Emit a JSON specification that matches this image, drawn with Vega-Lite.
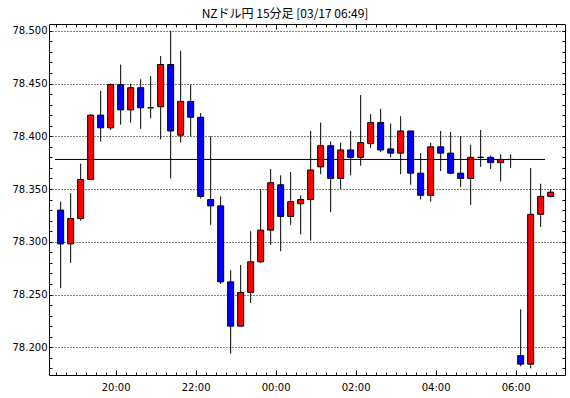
{
  "$schema": "https://vega.github.io/schema/vega-lite/v6.json",
  "width": 516,
  "height": 351,
  "autosize": {"type": "none"},
  "padding": {"left": 49, "top": 24, "right": 5, "bottom": 23},
  "background": "white",
  "title": {"text": "NZドル円 15分足 [03/17 06:49]", "font": "Noto Sans CJK JP", "fontSize": 12, "fontWeight": "normal", "color": "black", "anchor": "middle", "dx": -22, "dy": 11, "offset": 5, "baseline": "alphabetic"},
  "config": {
    "view": {"stroke": "black", "strokeWidth": 1},
    "axis": {"labelFont": "DejaVu Sans", "labelFontSize": 10, "labelColor": "black", "tickColor": "black", "tickWidth": 1, "domain": false, "grid": false, "title": null}
  },
  "datasets": {
    "candles": [
      {"t": "2025-03-16T18:37:30", "o": 78.330, "h": 78.338, "l": 78.256, "c": 78.298},
      {"t": "2025-03-16T18:52:30", "o": 78.298, "h": 78.346, "l": 78.280, "c": 78.322},
      {"t": "2025-03-16T19:07:30", "o": 78.322, "h": 78.374, "l": 78.320, "c": 78.359},
      {"t": "2025-03-16T19:22:30", "o": 78.359, "h": 78.421, "l": 78.359, "c": 78.420},
      {"t": "2025-03-16T19:37:30", "o": 78.420, "h": 78.443, "l": 78.395, "c": 78.408},
      {"t": "2025-03-16T19:52:30", "o": 78.408, "h": 78.450, "l": 78.406, "c": 78.449},
      {"t": "2025-03-16T20:07:30", "o": 78.449, "h": 78.468, "l": 78.411, "c": 78.425},
      {"t": "2025-03-16T20:22:30", "o": 78.425, "h": 78.450, "l": 78.413, "c": 78.446},
      {"t": "2025-03-16T20:37:30", "o": 78.446, "h": 78.454, "l": 78.407, "c": 78.427},
      {"t": "2025-03-16T20:52:30", "o": 78.427, "h": 78.457, "l": 78.417, "c": 78.427},
      {"t": "2025-03-16T21:07:30", "o": 78.428, "h": 78.476, "l": 78.397, "c": 78.468},
      {"t": "2025-03-16T21:22:30", "o": 78.468, "h": 78.500, "l": 78.360, "c": 78.405},
      {"t": "2025-03-16T21:37:30", "o": 78.401, "h": 78.481, "l": 78.394, "c": 78.433},
      {"t": "2025-03-16T21:52:30", "o": 78.433, "h": 78.449, "l": 78.400, "c": 78.418},
      {"t": "2025-03-16T22:07:30", "o": 78.418, "h": 78.422, "l": 78.341, "c": 78.343},
      {"t": "2025-03-16T22:22:30", "o": 78.340, "h": 78.400, "l": 78.316, "c": 78.334},
      {"t": "2025-03-16T22:37:30", "o": 78.334, "h": 78.343, "l": 78.260, "c": 78.262},
      {"t": "2025-03-16T22:52:30", "o": 78.262, "h": 78.273, "l": 78.194, "c": 78.220},
      {"t": "2025-03-16T23:07:30", "o": 78.220, "h": 78.278, "l": 78.220, "c": 78.252},
      {"t": "2025-03-16T23:22:30", "o": 78.252, "h": 78.310, "l": 78.242, "c": 78.281},
      {"t": "2025-03-16T23:37:30", "o": 78.281, "h": 78.350, "l": 78.280, "c": 78.311},
      {"t": "2025-03-16T23:52:30", "o": 78.311, "h": 78.369, "l": 78.297, "c": 78.356},
      {"t": "2025-03-17T00:07:30", "o": 78.354, "h": 78.363, "l": 78.291, "c": 78.324},
      {"t": "2025-03-17T00:22:30", "o": 78.324, "h": 78.366, "l": 78.316, "c": 78.338},
      {"t": "2025-03-17T00:37:30", "o": 78.336, "h": 78.344, "l": 78.307, "c": 78.340},
      {"t": "2025-03-17T00:52:30", "o": 78.340, "h": 78.405, "l": 78.301, "c": 78.368},
      {"t": "2025-03-17T01:07:30", "o": 78.371, "h": 78.413, "l": 78.364, "c": 78.391},
      {"t": "2025-03-17T01:22:30", "o": 78.391, "h": 78.395, "l": 78.328, "c": 78.360},
      {"t": "2025-03-17T01:37:30", "o": 78.360, "h": 78.394, "l": 78.350, "c": 78.387},
      {"t": "2025-03-17T01:52:30", "o": 78.387, "h": 78.405, "l": 78.363, "c": 78.380},
      {"t": "2025-03-17T02:07:30", "o": 78.380, "h": 78.439, "l": 78.372, "c": 78.394},
      {"t": "2025-03-17T02:22:30", "o": 78.393, "h": 78.421, "l": 78.389, "c": 78.413},
      {"t": "2025-03-17T02:37:30", "o": 78.413, "h": 78.426, "l": 78.385, "c": 78.387},
      {"t": "2025-03-17T02:52:30", "o": 78.388, "h": 78.412, "l": 78.380, "c": 78.384},
      {"t": "2025-03-17T03:07:30", "o": 78.384, "h": 78.419, "l": 78.364, "c": 78.405},
      {"t": "2025-03-17T03:22:30", "o": 78.405, "h": 78.405, "l": 78.354, "c": 78.365},
      {"t": "2025-03-17T03:37:30", "o": 78.365, "h": 78.384, "l": 78.340, "c": 78.344},
      {"t": "2025-03-17T03:52:30", "o": 78.344, "h": 78.394, "l": 78.338, "c": 78.390},
      {"t": "2025-03-17T04:07:30", "o": 78.390, "h": 78.405, "l": 78.367, "c": 78.384},
      {"t": "2025-03-17T04:22:30", "o": 78.384, "h": 78.404, "l": 78.364, "c": 78.365},
      {"t": "2025-03-17T04:37:30", "o": 78.365, "h": 78.400, "l": 78.352, "c": 78.360},
      {"t": "2025-03-17T04:52:30", "o": 78.360, "h": 78.392, "l": 78.335, "c": 78.380},
      {"t": "2025-03-17T05:07:30", "o": 78.380, "h": 78.406, "l": 78.371, "c": 78.380},
      {"t": "2025-03-17T05:22:30", "o": 78.380, "h": 78.382, "l": 78.369, "c": 78.375},
      {"t": "2025-03-17T05:37:30", "o": 78.375, "h": 78.383, "l": 78.357, "c": 78.378},
      {"t": "2025-03-17T05:52:30", "o": 78.378, "h": 78.383, "l": 78.370, "c": 78.378},
      {"t": "2025-03-17T06:07:30", "o": 78.192, "h": 78.236, "l": 78.182, "c": 78.184},
      {"t": "2025-03-17T06:22:30", "o": 78.184, "h": 78.370, "l": 78.180, "c": 78.326},
      {"t": "2025-03-17T06:37:30", "o": 78.326, "h": 78.355, "l": 78.314, "c": 78.343},
      {"t": "2025-03-17T06:52:30", "o": 78.343, "h": 78.350, "l": 78.342, "c": 78.347}
    ],
    "ref": [
      {"t1": "2025-03-16T18:29:00", "t2": "2025-03-17T06:44:00", "v": 78.378}
    ]
  },
  "layer": [
    {
      "data": {"name": "candles"},
      "mark": {"type": "rule", "color": "black", "strokeWidth": 1},
      "encoding": {
        "x": {"field": "t", "type": "temporal",
          "scale": {"nice": false, "padding": 0, "domain": [{"year": 2025, "month": 3, "date": 16, "hours": 18, "minutes": 20}, {"year": 2025, "month": 3, "date": 17, "hours": 7, "minutes": 14}]},
          "axis": {"orient": "bottom", "labelPadding": 12, "labelFlush": false, "labelOverlap": false,
            "tickCount": 52,
            "tickSize": {"condition": {"test": "hours(datum.value) % 2 == 0 && minutes(datum.value) == 0", "value": -5}, "value": -3},
            "labelExpr": "hours(datum.value) % 2 == 0 && minutes(datum.value) == 0 ? timeFormat(datum.value, '%H:%M') : ''"}},
        "y": {"field": "l", "type": "quantitative",
          "scale": {"domain": [78.1737, 78.5064], "nice": false, "zero": false, "padding": 0},
          "axis": {"orient": "left", "labelPadding": 5, "tickCount": 40, "labelOverlap": false,
            "values": [78.18, 78.19, 78.2, 78.21, 78.22, 78.23, 78.24, 78.25, 78.26, 78.27, 78.28, 78.29, 78.3, 78.31, 78.32, 78.33, 78.34, 78.35, 78.36, 78.37, 78.38, 78.39, 78.4, 78.41, 78.42, 78.43, 78.44, 78.45, 78.46, 78.47, 78.48, 78.49, 78.5],
            "tickSize": -3,
            "labelExpr": "abs(datum.value * 20 - round(datum.value * 20)) < 0.01 ? format(datum.value, '.3f') : ''",
            "grid": true, "gridColor": "black", "gridDash": [1, 2], "gridWidth": 1,
            "gridOpacity": {"condition": {"test": "abs(datum.value * 20 - round(datum.value * 20)) < 0.01", "value": 1}, "value": 0}}},
        "y2": {"field": "h"}
      }
    },
    {
      "data": {"name": "candles"},
      "mark": {"type": "bar", "width": 6, "stroke": "black", "strokeWidth": 1},
      "encoding": {
        "x": {"field": "t", "type": "temporal",
          "scale": {"nice": false, "padding": 0, "domain": [{"year": 2025, "month": 3, "date": 16, "hours": 18, "minutes": 20}, {"year": 2025, "month": 3, "date": 17, "hours": 7, "minutes": 14}]},
          "axis": {"orient": "top", "labels": false, "tickCount": 52,
            "tickSize": {"condition": {"test": "hours(datum.value) % 2 == 0 && minutes(datum.value) == 0", "value": -5}, "value": -3}}},
        "y": {"field": "o", "type": "quantitative",
          "scale": {"domain": [78.1737, 78.5064], "nice": false, "zero": false, "padding": 0},
          "axis": {"orient": "right", "labels": false, "tickSize": -3, "tickCount": 40,
            "values": [78.18, 78.19, 78.2, 78.21, 78.22, 78.23, 78.24, 78.25, 78.26, 78.27, 78.28, 78.29, 78.3, 78.31, 78.32, 78.33, 78.34, 78.35, 78.36, 78.37, 78.38, 78.39, 78.4, 78.41, 78.42, 78.43, 78.44, 78.45, 78.46, 78.47, 78.48, 78.49, 78.5]}},
        "y2": {"field": "c"},
        "fill": {"condition": {"test": "datum.c > datum.o", "value": "#ff0000"}, "value": "#0000ff"}
      }
    },
    {
      "data": {"name": "ref"},
      "mark": {"type": "rule", "color": "black", "strokeWidth": 1},
      "encoding": {
        "x": {"field": "t1", "type": "temporal",
          "scale": {"nice": false, "padding": 0, "domain": [{"year": 2025, "month": 3, "date": 16, "hours": 18, "minutes": 20}, {"year": 2025, "month": 3, "date": 17, "hours": 7, "minutes": 14}]},
          "axis": null},
        "x2": {"field": "t2"},
        "y": {"field": "v", "type": "quantitative",
          "scale": {"domain": [78.1737, 78.5064], "nice": false, "zero": false, "padding": 0},
          "axis": null}
      }
    }
  ],
  "resolve": {"axis": {"x": "independent", "y": "independent"}}
}
